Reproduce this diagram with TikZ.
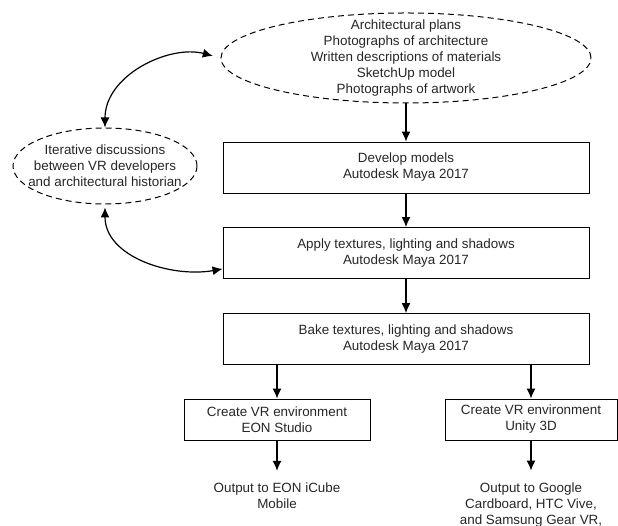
\documentclass[tikz,border=0pt]{standalone}
\usepackage{fontspec}
\setmainfont{Liberation Sans}
\usetikzlibrary{arrows.meta,shapes.geometric,positioning}
\tikzset{>={Latex[length=10pt,width=9pt]}}

\begin{document}
\begin{tikzpicture}[x=1pt,y=1pt,
        every node/.style={font=\fontsize{13.4}{16}\selectfont, text=black!85},
        stepbox/.style={draw, line width=0.9pt, rectangle, minimum width=366pt, minimum height=51pt, align=center},
        envbox/.style={draw, line width=0.9pt, rectangle, minimum height=41pt, align=center},
        srcell/.style={draw, dash pattern=on 6pt off 4pt, line width=1pt, ellipse},
        outtext/.style={align=center, inner ysep=12pt},
        flow/.style={->, line width=1.2pt}]
        \useasboundingbox (0,0) rectangle (618,526);

        % sources and discussions
        \node[srcell, minimum width=370pt, minimum height=90pt] (src) at (406,468) {};
        \node[align=center] at (src) {Architectural plans\\Photographs of architecture\\Written descriptions of materials\\SketchUp model\\Photographs of artwork};
        \node[srcell, minimum width=184pt, minimum height=76pt] (talk) at (105,360) {};
        \node[align=center] at (talk) {Iterative discussions\\between VR developers\\and architectural historian};

        % Maya steps
        \node[stepbox] (model) at (406,358.5) {Develop models\\Autodesk Maya 2017};
        \node[stepbox] (texture) at (406,273) {Apply textures, lighting and shadows\\Autodesk Maya 2017};
        \node[stepbox] (bake) at (406,187) {Bake textures, lighting and shadows\\Autodesk Maya 2017};

        % VR environments
        \node[envbox, minimum width=186pt] (eon) at (277,106.5) {Create VR environment\\EON Studio};
        \node[envbox, minimum width=172pt] (unity) at (531,106.5) {Create VR environment\\Unity 3D};
        \node[outtext] (eonout) at (277,30) {Output to EON iCube\\Mobile};
        \node[outtext] (unityout) at (531,21) {Output to Google\\Cardboard, HTC Vive,\\and Samsung Gear VR,};

        \draw[flow] (src) -- (model);
        \draw[flow] (model) -- (texture);
        \draw[flow] (texture) -- (bake);
        \draw[flow] (bake.south -| eon) -- (eon);
        \draw[flow] (bake.south -| unity) -- (unity);
        \draw[flow] (eon) -- (eonout);
        \draw[flow] (unity) -- (unityout);

        \draw[flow, <->, shorten >=8pt] (talk.north) to[out=90, in=165] (src.west);
        \draw[flow, <->, shorten <=3pt] (talk.south) to[out=-90, in=190] ([yshift=10pt]texture.south west);
\end{tikzpicture}
\end{document}
